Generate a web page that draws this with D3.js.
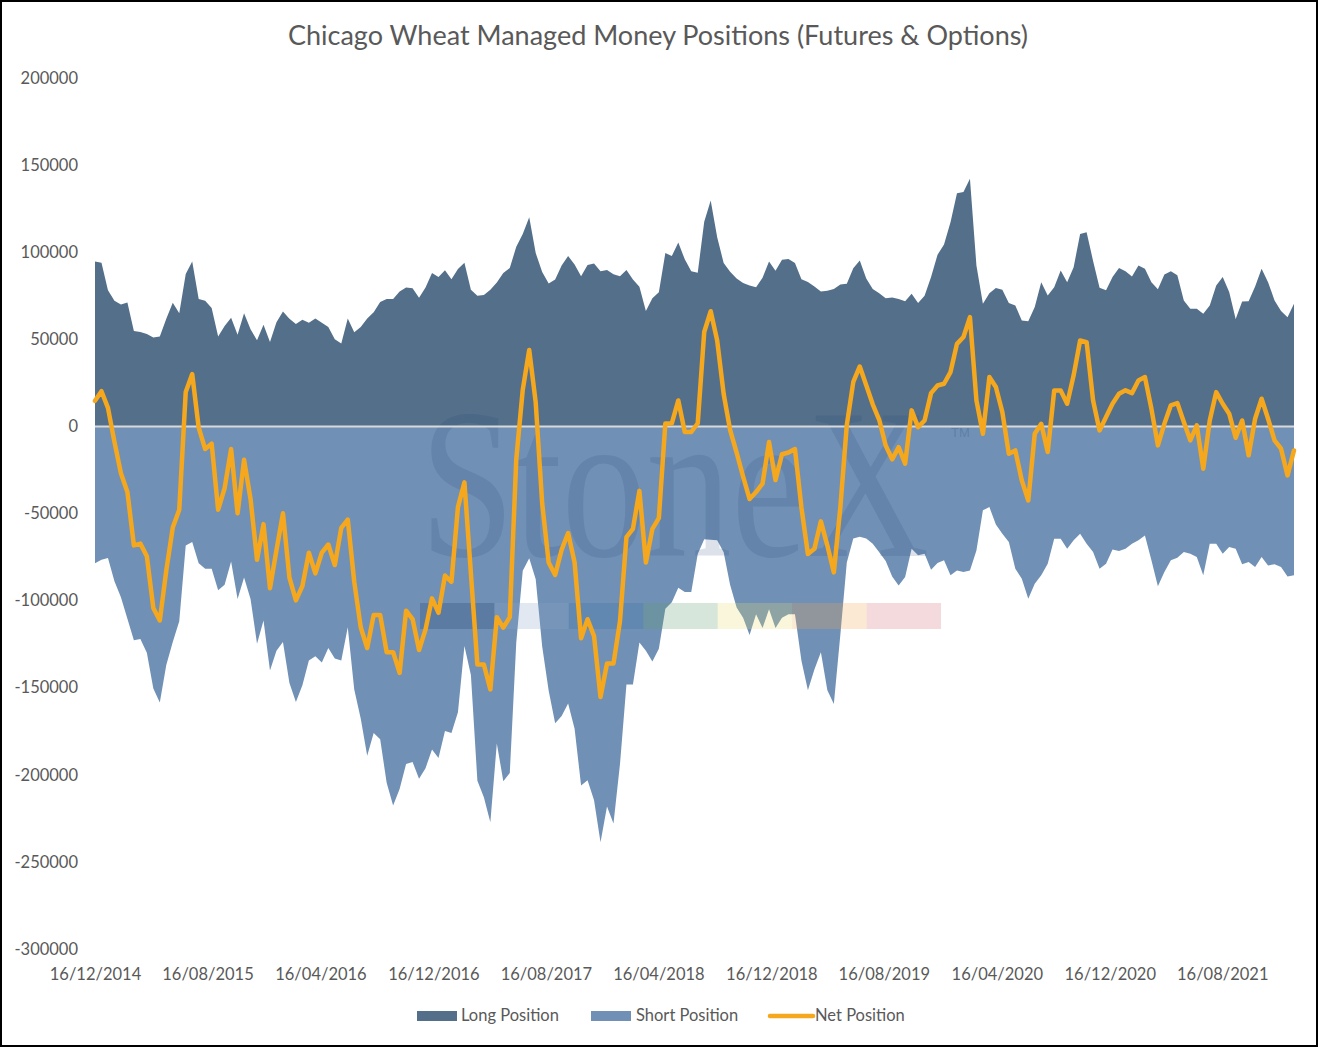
<!DOCTYPE html>
<html>
<head>
<meta charset="utf-8">
<script src="https://cdn.jsdelivr.net/npm/d3@7"></script>
<style>
  html, body { margin: 0; padding: 0; background: #fff; }
  svg { display: block; }
  text { font-family: Lato, "Open Sans", sans-serif; fill: #595959; }
</style>
</head>
<body>
<svg id="chart" width="1318" height="1047"></svg>
<script>
// ---------------- DATA (bi-weekly COT reports) ----------------
const chartTitle = "Chicago Wheat Managed Money Positions (Futures & Options)";
const seriesNames = ["Long Position", "Short Position", "Net Position"];
const firstReport = "16/12/2014";   // first report date, one value every 14 days
const reportStepDays = 14;

const longPos = [
  94600, 94000, 78200, 72100, 70000, 71100, 54700, 54200, 53000, 51000,
  51600, 61800, 71000, 64900, 87500, 94600, 73100, 72100, 68000, 51600,
  57700, 62400, 52600, 64900, 55700, 49500, 58300, 48500, 59800, 65900,
  61800, 58800, 61200, 59500, 61900, 59500, 57100, 50000, 47600, 61900,
  54000, 57100, 61900, 65500, 71400, 73100, 73100, 77400, 79700, 79300,
  73800, 79700, 88100, 85700, 89700, 84500, 90400, 94000, 78500, 75000,
  75500, 78500, 82600, 88100, 91000, 103100, 110400, 120000, 99500, 88600,
  82100, 84300, 92300, 97800, 93000, 86200, 92700, 93500, 89100, 89800,
  87400, 86200, 89800, 84300, 80200, 66200, 73600, 77000, 99500, 97800,
  105500, 95900, 89100, 88200, 117500, 129700, 108600, 93800, 88800, 84900,
  82300, 80900, 79900, 85400, 94700, 89400, 95700, 96100, 93800, 84500,
  82900, 80300, 77500, 77900, 78900, 81500, 81900, 90800, 95300, 84900,
  78900, 76400, 73600, 74000, 73200, 71900, 76100, 70800, 75000, 85700,
  98500, 104400, 117200, 133900, 134500, 142100, 92400, 70400, 76500, 79400,
  78400, 70800, 69400, 60800, 60400, 68500, 82800, 75200, 79900, 89500,
  82800, 91400, 110500, 111500, 95000, 79600, 78100, 85700, 90900, 89100,
  86100, 92400, 90500, 82800, 78800, 87200, 89100, 86700, 72300, 67500,
  67500, 64700, 69400, 80900, 85700, 77100, 61600, 71700, 71900, 80300,
  90500, 82800, 72300, 66200, 62700, 70400
];

const shortPos = [
  -78600, -76600, -75500, -88900, -98100, -110400, -122700, -122100, -129900, -150400,
  -158500, -137000, -123700, -111800, -68400, -66300, -78600, -81700, -81700, -94000,
  -90900, -77600, -99100, -86800, -99100, -124700, -111400, -140100, -128800, -123700,
  -147300, -158200, -148600, -134400, -132000, -135600, -127200, -133200, -134400, -115300,
  -151000, -167700, -189100, -176000, -179600, -204500, -217600, -208100, -193800, -192700,
  -202200, -196200, -185500, -190300, -174800, -176000, -164100, -126000, -142700, -203400,
  -212900, -227200, -182000, -203700, -198900, -124000, -82900, -75700, -87700, -126400,
  -151800, -170400, -166300, -159000, -173500, -206100, -203200, -214600, -238700, -218200,
  -227900, -194000, -148100, -148100, -124000, -128800, -134900, -127600, -104700, -101000,
  -92600, -95000, -95000, -73300, -64800, -65000, -65400, -72300, -91100, -104000,
  -109900, -119800, -107900, -115800, -105000, -115800, -109900, -107900, -107900, -134600,
  -151400, -139500, -129600, -151400, -159300, -119800, -78200, -64400, -63400, -64400,
  -67400, -72300, -77300, -86200, -91300, -86500, -70200, -74000, -73100, -82300,
  -78400, -76900, -85500, -82700, -83600, -82700, -71200, -48200, -46300, -56300,
  -61600, -66400, -81700, -87400, -98900, -90300, -85500, -78800, -64500, -64500,
  -70200, -65400, -61600, -67400, -72100, -81700, -78800, -70600, -71500, -70200,
  -67300, -65400, -62600, -76900, -91800, -83600, -76900, -75400, -72100, -73100,
  -75000, -85500, -67300, -67300, -73100, -69200, -70200, -79200, -77900, -80700,
  -75000, -79800, -79200, -80700, -86100, -85500
];

const netPos = [
  14700, 20200, 10600, -8900, -26900, -37600, -68300, -67300, -74500, -104200,
  -111400, -82700, -58100, -47800, 19800, 30000, -700, -13000, -9900, -47800,
  -35500, -13000, -49900, -19200, -41700, -76600, -56100, -92900, -71000, -49900,
  -86800, -99900, -91600, -72500, -84400, -72500, -67800, -79600, -58200, -53500,
  -89200, -115300, -127200, -108200, -108200, -129600, -129600, -141500, -105800, -110600,
  -128400, -116500, -98700, -107000, -85600, -89200, -46300, -32100, -84400, -136700,
  -136700, -151000, -109500, -115500, -109500, -18900, 21000, 43900, 13700, -44300,
  -78100, -85300, -70800, -61200, -78100, -121600, -110700, -120400, -155400, -136100,
  -136100, -111900, -63600, -58800, -37000, -78100, -58800, -52700, 1700, 1700,
  14900, -3200, -3200, 1800, 54200, 66100, 49300, 18600, -2100, -15000,
  -28800, -41700, -37700, -32800, -9000, -30800, -16000, -15000, -13000, -46600,
  -73300, -70300, -54500, -68400, -83800, -46600, 800, 25500, 34400, 23600,
  12700, 3800, -11000, -18900, -11900, -21400, 9200, -400, 3400, 19100,
  23500, 24500, 31200, 47400, 51300, 62700, 14900, -4200, 28300, 22600,
  8200, -15700, -13800, -31000, -42500, -4200, 1500, -14700, 20600, 20600,
  13000, 29300, 49300, 48400, 14900, -2300, 5400, 13000, 18700, 20700,
  19100, 26400, 28300, 10100, -10900, 1500, 12100, 13400, 2500, -8000,
  600, -24300, 3400, 19700, 13000, 7300, -6500, 3400, -16600, 4400,
  15900, 4400, -8000, -12800, -28100, -13800
];

const xTickLabels = ["16/12/2014", "16/08/2015", "16/04/2016", "16/12/2016", "16/08/2017",
  "16/04/2018", "16/12/2018", "16/08/2019", "16/04/2020", "16/12/2020", "16/08/2021"];
const yTickValues = [200000, 150000, 100000, 50000, 0, -50000, -100000, -150000, -200000, -250000, -300000];

// ---------------- CHART ----------------
const W = 1318, H = 1047;
const svg = d3.select("#chart");
const parse = d3.timeParse("%d/%m/%Y");
const fmt = d3.timeFormat("%d/%m/%Y");
const start = parse(firstReport);
const dates = longPos.map((_, i) => d3.timeDay.offset(start, i * reportStepDays));

const x = d3.scaleTime().domain([dates[0], dates[dates.length - 1]]).range([95, 1294]);
const y = d3.scaleLinear().domain([-300000, 200000]).range([949, 78]);

const colLong = "#546f8a", colShort = "#7091b5", colNet = "#f5a81d";

// border
svg.append("rect").attr("x", 1).attr("y", 1).attr("width", W - 2).attr("height", H - 2)
  .attr("fill", "#fff").attr("stroke", "#000").attr("stroke-width", 2);

// title
svg.append("text").attr("x", 658).attr("y", 45).attr("text-anchor", "middle")
  .attr("font-size", 27).text(chartTitle);

// areas
const rowsLong = dates.map((d, i) => ({ d, v: longPos[i] }));
const rowsShort = dates.map((d, i) => ({ d, v: shortPos[i] }));
const rowsNet = dates.map((d, i) => ({ d, v: netPos[i] }));

const area = d3.area().x(r => x(r.d)).y0(y(0)).y1(r => y(r.v));
svg.append("path").datum(rowsLong).attr("fill", colLong).attr("d", area);
svg.append("path").datum(rowsShort).attr("fill", colShort).attr("d", area);

// watermark (StoneX logo)
const wm = svg.append("g").attr("pointer-events", "none");
wm.append("text").attr("transform", "translate(420,556) scale(0.79,1)")
  .style("font-family", "'Liberation Serif', 'DejaVu Serif', serif")
  .style("fill", "#28467a").style("fill-opacity", 0.16)
  .attr("font-size", 215).text("StoneX");
wm.append("text").attr("x", 951).attr("y", 437)
  .style("font-family", "'Liberation Sans', sans-serif")
  .style("fill", "#28467a").style("fill-opacity", 0.25)
  .attr("font-size", 13).text("TM");
const barColors = ["#1b3a6b", "#8aa5c6", "#2f6ea5", "#5a9a6a", "#e8dc70", "#eea650", "#d46a74"];
const bx = d3.scaleBand().domain(d3.range(barColors.length)).range([420, 941]);
wm.selectAll("rect.bar").data(barColors).join("rect").attr("class", "bar")
  .attr("x", (c, i) => bx(i)).attr("width", bx.bandwidth())
  .attr("y", 603).attr("height", 26)
  .attr("fill", c => c).attr("fill-opacity", 0.25);

// zero line
svg.append("line").attr("x1", x(dates[0])).attr("x2", x(dates[dates.length - 1]))
  .attr("y1", y(0)).attr("y2", y(0)).attr("stroke", "#d9d9d9").attr("stroke-width", 2);

// net line
const line = d3.line().x(r => x(r.d)).y(r => y(r.v));
svg.append("path").datum(rowsNet).attr("fill", "none").attr("stroke", colNet)
  .attr("stroke-width", 4.5).attr("stroke-linejoin", "round").attr("stroke-linecap", "round")
  .attr("d", line);

// y axis
const yAxis = d3.axisLeft(y).tickValues(yTickValues).tickSize(0).tickPadding(0)
  .tickFormat(d => String(d));
const gy = svg.append("g").attr("transform", "translate(78,0)").call(yAxis);
gy.select(".domain").remove();
gy.selectAll("text").attr("font-size", 16.5).style("fill", "#595959")
  .style("font-family", "Lato, 'Open Sans', sans-serif");

// x axis
const xAxis = d3.axisBottom(x).tickValues(xTickLabels.map(parse)).tickSize(0).tickPadding(0)
  .tickFormat(fmt);
const gx = svg.append("g").attr("transform", "translate(0,968)").call(xAxis);
gx.select(".domain").remove();
gx.selectAll("text").attr("font-size", 16.5).style("fill", "#595959")
  .style("font-family", "Lato, 'Open Sans', sans-serif");

// legend
const legend = svg.append("g");
const legItems = [
  { name: seriesNames[0], type: "rect", color: colLong, sx: 417, tx: 461 },
  { name: seriesNames[1], type: "rect", color: colShort, sx: 591, tx: 636 },
  { name: seriesNames[2], type: "line", color: colNet, sx: 770, tx: 815 }
];
legItems.forEach(it => {
  if (it.type === "rect") {
    legend.append("rect").attr("x", it.sx).attr("y", 1011).attr("width", 40).attr("height", 10)
      .attr("fill", it.color);
  } else {
    legend.append("line").attr("x1", it.sx).attr("x2", it.sx + 43).attr("y1", 1016).attr("y2", 1016)
      .attr("stroke", it.color).attr("stroke-width", 4.5).attr("stroke-linecap", "round");
  }
  legend.append("text").attr("x", it.tx).attr("y", 1021).attr("font-size", 16.5).text(it.name);
});
</script>
</body>
</html>
